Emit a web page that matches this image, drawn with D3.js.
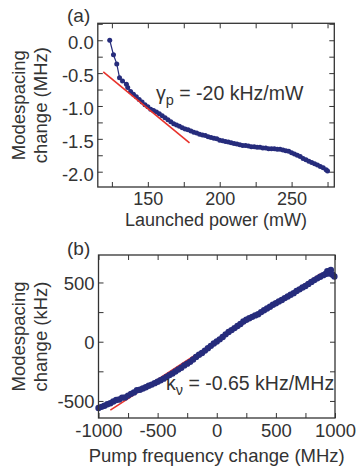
<!DOCTYPE html>
<html>
<head>
<meta charset="utf-8">
<script src="https://cdn.jsdelivr.net/npm/d3@7"></script>
<style>
  body { margin: 0; background: #fff; }
  text { font-family: "Liberation Sans", Arial, sans-serif; fill: #333; }
</style>
</head>
<body>
<svg id="chart" width="356" height="466"></svg>
<script>
// ---- panel (a): modespacing vs launched power ----
var powerA = [123.5, 126.1, 128.4, 130.3, 132.4, 135.1,
  136, 138, 140, 142, 144, 146, 148, 150, 152, 154, 156, 158, 160, 162, 164, 166, 168, 170,
  172, 174, 176, 178, 180, 182, 184, 186, 188, 190, 192, 194, 196, 198, 200, 202, 204, 206,
  208, 210, 212, 214, 216, 218, 220, 222, 224, 226, 228, 230, 232, 234, 236, 238, 240, 242,
  244, 246, 248, 250, 252, 254, 256, 258, 260, 262, 264, 266, 268, 270, 272, 274, 275];
var spacingA = [0.0, -0.22, -0.36, -0.57, -0.62, -0.67,
  -0.72, -0.78, -0.82, -0.86, -0.90, -0.94, -0.98, -1.01, -1.05, -1.07, -1.09, -1.12, -1.15, -1.18, -1.21, -1.24, -1.27, -1.29,
  -1.31, -1.33, -1.35, -1.36, -1.38, -1.40, -1.41, -1.43, -1.44, -1.45, -1.47, -1.48, -1.49, -1.50, -1.52, -1.53, -1.54, -1.55,
  -1.56, -1.57, -1.58, -1.59, -1.60, -1.60, -1.61, -1.62, -1.62, -1.63, -1.63, -1.64, -1.64, -1.65, -1.65, -1.65, -1.66, -1.66,
  -1.67, -1.68, -1.69, -1.71, -1.73, -1.75, -1.77, -1.80, -1.82, -1.84, -1.86, -1.88, -1.90, -1.92, -1.94, -1.97, -1.99];
var fitPowerA = [119, 179];
var fitSpacingA = [-0.48, -1.56];
var xTicksA = [125, 150, 175, 200, 225, 250, 275];
var xLabelValsA = [150, 200, 250];
var xLabelsA = ["150", "200", "250"];
var yTicksA = [0.25, 0, -0.25, -0.5, -0.75, -1, -1.25, -1.5, -1.75, -2];
var yLabelValsA = [0, -0.5, -1, -1.5, -2];
var yLabelsA = ["0.0", "-0.5", "-1.0", "-1.5", "-2.0"];

// ---- panel (b): modespacing vs pump frequency ----
var freqB = [-1000, -975, -950, -925, -900, -875, -850, -825, -800, -775, -750, -725, -700, -675,
  -650, -625, -600, -575, -550, -525, -500, -475, -450, -425, -400, -375, -350, -325, -300, -275,
  -250, -225, -200, -175, -150, -125, -100, -75, -50, -25, 0, 25, 50, 75, 100, 125, 150, 175, 200,
  225, 250, 275, 300, 325, 350, 375, 400, 425, 450, 475, 500, 525, 550, 575, 600, 625, 650, 675,
  700, 725, 750, 775, 800, 825, 850, 875, 900, 920, 935, 950, 965, 980, 995];
var spacingB = [-560, -550, -540, -528, -520, -505, -492, -488, -472, -470, -455, -440, -428, -410,
  -405, -395, -385, -372, -362, -350, -338, -325, -312, -298, -282, -268, -252, -235, -220, -200,
  -185, -170, -150, -128, -110, -95, -75, -55, -35, -15, 2, 20, 40, 62, 82, 98, 115, 133, 150,
  170, 185, 198, 210, 222, 232, 250, 265, 280, 295, 312, 325, 340, 352, 368, 382, 396, 410, 428,
  442, 458, 470, 488, 505, 520, 535, 548, 562, 572, 595, 575, 605, 565, 550];
var fitFreqB = [-900, 880];
var fitSpacingB = [-578, 575];
var xTicksB = [-1000, -750, -500, -250, 0, 250, 500, 750, 1000];
var xLabelValsB = [-1000, -500, 0, 500, 1000];
var xLabelsB = ["-1000", "-500", "0", "500", "1000"];
var yTicksB = [500, 250, 0, -250, -500];
var yLabelValsB = [500, 0, -500];
var yLabelsB = ["500", "0", "-500"];

var navy = "#262c7c";
var red = "#e8322b";
var svg = d3.select("#chart");

function panel(p) {
  var x = d3.scaleLinear().domain(p.xDomain).range([p.left, p.right]);
  var y = d3.scaleLinear().domain(p.yDomain).range([p.bottom, p.top]);
  var g = svg.append("g");

  // inward ticks on all four sides
  var tick = function (axis, pos) {
    g.append("g").attr("transform", pos).call(axis)
      .call(a => a.select(".domain").remove())
      .call(a => a.selectAll("line").attr("stroke", "#333").attr("stroke-width", 1));
  };
  tick(d3.axisBottom(x).tickValues(p.xTicks).tickSize(-5).tickFormat(""), `translate(0,${p.bottom})`);
  tick(d3.axisTop(x).tickValues(p.xTicks).tickSize(-5).tickFormat(""), `translate(0,${p.top})`);
  tick(d3.axisLeft(y).tickValues(p.yTicks).tickSize(-5).tickFormat(""), `translate(${p.left},0)`);
  tick(d3.axisRight(y).tickValues(p.yTicks).tickSize(-5).tickFormat(""), `translate(${p.right},0)`);

  // tick labels
  var xl = g.append("g").attr("transform", `translate(0,${p.bottom})`)
    .call(d3.axisBottom(x).tickValues(p.xLabelVals).tickSize(0).tickPadding(p.xPad)
      .tickFormat((d, i) => p.xLabels[i]));
  var yl = g.append("g").attr("transform", `translate(${p.left},0)`)
    .call(d3.axisLeft(y).tickValues(p.yLabelVals).tickSize(0).tickPadding(4)
      .tickFormat((d, i) => p.yLabels[i]));
  [xl, yl].forEach(function (a) {
    a.select(".domain").remove();
    a.selectAll("text").attr("font-size", "18.5px").attr("fill", "#333")
      .attr("font-family", '"Liberation Sans", Arial, sans-serif');
  });
  xl.selectAll("text").attr("font-size", p.xTickSize);
  yl.selectAll("text").attr("dy", p.yDy);

  var fit = d3.line().x(d => x(d[0])).y(d => y(d[1]));
  var fitData = d3.zip(p.fitX, p.fitY);
  var pts = d3.zip(p.xs, p.ys);

  if (!p.fitOnTop) {
    g.append("path").datum(fitData).attr("d", fit)
      .attr("stroke", red).attr("stroke-width", 1.6).attr("fill", "none");
  }
  if (p.joined) {
    g.append("path").datum(pts).attr("d", fit)
      .attr("stroke", navy).attr("stroke-width", 1.2).attr("fill", "none");
  }
  g.selectAll("circle.pt").data(pts).enter().append("circle")
    .attr("cx", d => x(d[0])).attr("cy", d => y(d[1])).attr("r", p.r)
    .attr("fill", navy);
  if (p.fitOnTop) {
    g.append("path").datum(fitData).attr("d", fit)
      .attr("stroke", red).attr("stroke-width", 1.6).attr("fill", "none");
  }

  // frame
  g.append("rect").attr("x", p.left).attr("y", p.top)
    .attr("width", p.right - p.left).attr("height", p.bottom - p.top)
    .attr("fill", "none").attr("stroke", "#333").attr("stroke-width", 1.3);

  // titles
  g.append("text").attr("x", (p.left + p.right) / 2).attr("y", p.xTitleY)
    .attr("text-anchor", "middle").attr("font-size", p.xTitleSize).text(p.xTitle);
  var cy = (p.top + p.bottom) / 2;
  g.append("text").attr("transform", `translate(25,${cy}) rotate(-90)`)
    .attr("text-anchor", "middle").attr("font-size", "18.5px").text("Modespacing");
  g.append("text").attr("transform", `translate(47,${cy}) rotate(-90)`)
    .attr("text-anchor", "middle").attr("font-size", "18.5px").text(p.yTitle);
  g.append("text").attr("x", 67).attr("y", p.tagY)
    .attr("font-size", "19px").text(p.tag);

  // annotation
  var ann = g.append("text").attr("x", p.annX).attr("y", p.annY).attr("font-size", "19.5px");
  ann.append("tspan").text(p.annSym);
  ann.append("tspan").attr("font-size", "14.5px").attr("dy", 5).text(p.annSub);
  ann.append("tspan").attr("dy", -5).text(p.annText);
}

panel({
  xDomain: [115.2, 279.7], yDomain: [-2.233, 0.258],
  left: 97.8, right: 334.3, top: 23.3, bottom: 187,
  xTicks: xTicksA, xLabelVals: xLabelValsA, xLabels: xLabelsA, xPad: 5, xTickSize: "18px",
  yTicks: yTicksA, yLabelVals: yLabelValsA, yLabels: yLabelsA, yDy: "0.45em",
  xs: powerA, ys: spacingA, fitX: fitPowerA, fitY: fitSpacingA,
  fitOnTop: true, joined: true, r: 2.5,
  xTitle: "Launched power (mW)", xTitleY: 226, xTitleSize: "18px", yTitle: "change (MHz)",
  tag: "(a)", tagY: 22,
  annX: 156, annY: 100, annSym: "\u03b3", annSub: "p", annText: " = -20 kHz/mW"
});

panel({
  xDomain: [-1000, 1000], yDomain: [-644, 732],
  left: 98.5, right: 335, top: 255, bottom: 418,
  xTicks: xTicksB, xLabelVals: xLabelValsB, xLabels: xLabelsB, xPad: 6, xTickSize: "18.5px",
  yTicks: yTicksB, yLabelVals: yLabelValsB, yLabels: yLabelsB, yDy: "0.36em",
  xs: freqB, ys: spacingB, fitX: fitFreqB, fitY: fitSpacingB,
  fitOnTop: false, joined: false, r: 3.2,
  xTitle: "Pump frequency change (MHz)", xTitleY: 462, xTitleSize: "18.5px", yTitle: "change (kHz)",
  tag: "(b)", tagY: 255,
  annX: 166, annY: 389.5, annSym: "\u03ba", annSub: "\u03bd", annText: " = -0.65 kHz/MHz"
});
</script>
</body>
</html>
